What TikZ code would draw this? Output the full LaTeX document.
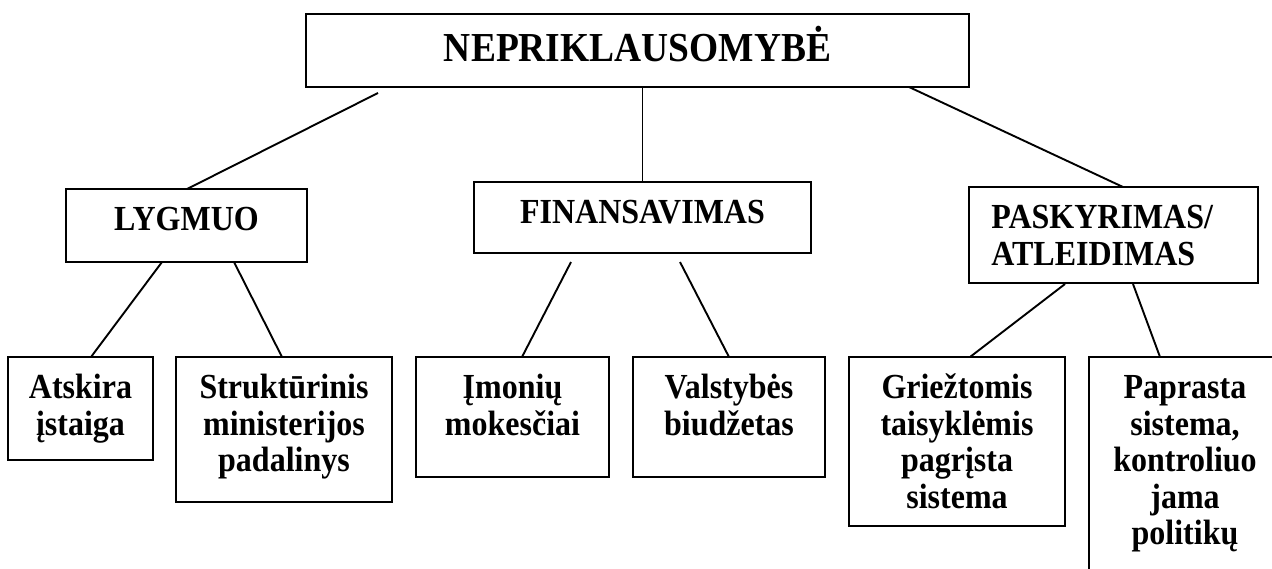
\documentclass[tikz,border=0pt]{standalone}
\usepackage{fontspec}
\setmainfont{Liberation Serif}
\newfontfamily\tnr[FakeStretch=0.909]{Liberation Serif}
\usetikzlibrary{calc}
\newcommand\mkbox[5]{\node[box, minimum width={(#4-#2)*0.5pt}, minimum height={(#5-#3)*0.5pt}] (#1) at (#2,#3) {};}
\begin{document}
\begin{tikzpicture}[x=0.5pt,y=-0.5pt,
  box/.style={draw, line width=1.2pt, inner sep=0pt, outer sep=0pt, anchor=north west},
  conn/.style={line width=0.95pt},
  lbl/.style={font=\tnr\bfseries\fontsize{17.6}{18.2}\selectfont, align=center, inner sep=0pt, anchor=north},
  ttl/.style={font=\tnr\bfseries\fontsize{20.6}{24}\selectfont, inner sep=0pt, anchor=base}]
\useasboundingbox (0,0) rectangle (1272,568);
\clip (0,0) rectangle (1272,568);
% boxes
\mkbox{top}{306}{14}{969}{87}
\mkbox{lyg}{66}{189}{307}{262}
\mkbox{fin}{474}{182}{811}{253}
\mkbox{pask}{969}{187}{1258}{283}
\mkbox{atsk}{8}{357}{153}{460}
\mkbox{str}{176}{357}{392}{502}
\mkbox{imo}{416}{357}{609}{477}
\mkbox{val}{633}{357}{825}{477}
\mkbox{gri}{849}{357}{1065}{526}
\mkbox{pap}{1089}{357}{1281}{590}
% texts
\node[ttl] (topT) at ($(top.north)+(0,47)$) {NEPRIKLAUSOMYBĖ};
\node[lbl] (lygT) at ($(lyg.north)+(0,6.3)$) {\rule{0pt}{1em}LYGMUO};
\node[lbl] (finT) at ($(fin.north)+(0,6.3)$) {\rule{0pt}{1em}FINANSAVIMAS};
\node[lbl, align=left, anchor=north west] (paskT) at ($(pask.north west)+(22,6.3)$) {\rule{0pt}{1em}PASKYRIMAS/\\ATLEIDIMAS};
\node[lbl] (atskT) at ($(atsk.north)+(0,6.3)$) {\rule{0pt}{1em}Atskira\\įstaiga};
\node[lbl] (strT) at ($(str.north)+(0,6.3)$) {\rule{0pt}{1em}Struktūrinis\\ministerijos\\padalinys};
\node[lbl] (imoT) at ($(imo.north)+(0,6.3)$) {\rule{0pt}{1em}Įmonių\\mokesčiai};
\node[lbl] (valT) at ($(val.north)+(0,6.3)$) {\rule{0pt}{1em}Valstybės\\biudžetas};
\node[lbl] (griT) at ($(gri.north)+(0,6.3)$) {\rule{0pt}{1em}Griežtomis\\taisyklėmis\\pagrįsta\\sistema};
\node[lbl] (papT) at ($(pap.north west)+(96,6.3)$) {\rule{0pt}{1em}Paprasta\\sistema,\\kontroliuo\\jama\\politikų};
% connectors
\draw[conn] ([shift={(72,6)}]top.south west) -- ([shift={(121,0)}]lyg.north west);
\draw[conn] (fin.north |- top.south) -- (fin.north);
\draw[conn] ([shift={(603,0)}]top.south west) -- ([shift={(154,0)}]pask.north west);
\draw[conn] ([shift={(96,0)}]lyg.south west) -- ([shift={(83,0)}]atsk.north west);
\draw[conn] ([shift={(168,0)}]lyg.south west) -- ([shift={(106,0)}]str.north west);
\draw[conn] ([shift={(97,9)}]fin.south west) -- ([shift={(106,0)}]imo.north west);
\draw[conn] ([shift={(206,9)}]fin.south west) -- ([shift={(96,0)}]val.north west);
\draw[conn] ([shift={(96,1)}]pask.south west) -- ([shift={(121,0)}]gri.north west);
\draw[conn] ([shift={(164,1)}]pask.south west) -- ([shift={(71,0)}]pap.north west);
\end{tikzpicture}
\end{document}
